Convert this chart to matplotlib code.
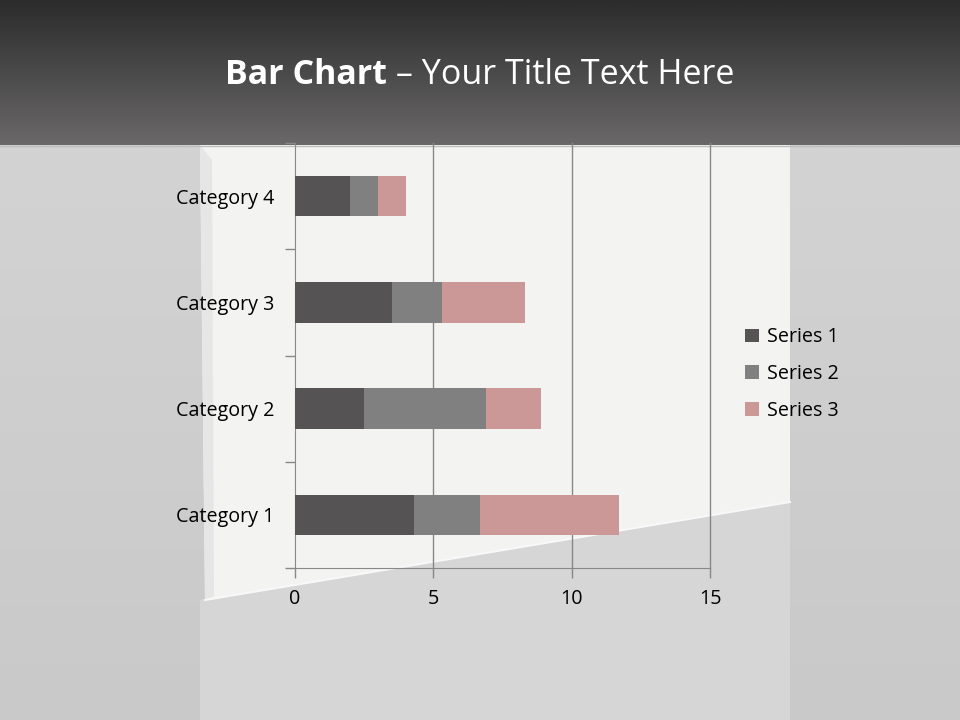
import numpy as np
import matplotlib.pyplot as plt
from matplotlib.patches import Polygon
from matplotlib.colors import LinearSegmentedColormap

plt.rcParams['font.family'] = ['Open Sans', 'DejaVu Sans']

categories = ["Category 1", "Category 2", "Category 3", "Category 4"]
series_names = ["Series 1", "Series 2", "Series 3"]
series_1 = [4.3, 2.5, 3.5, 2.0]
series_2 = [2.4, 4.4, 1.8, 1.0]
series_3 = [5.0, 2.0, 3.0, 1.0]
x_ticks = [0, 5, 10, 15]

colors = ["#555354", "#808080", "#cb9797"]

W, H = 960, 720
fig = plt.figure(figsize=(9.6, 7.2), dpi=100)

# background in pixel coords
bg = fig.add_axes([0, 0, 1, 1])
bg.set_xlim(0, W)
bg.set_ylim(H, 0)
bg.axis("off")

grey = LinearSegmentedColormap.from_list("g", ["#d3d3d3", "#c9c9c9"])
bg.imshow(np.linspace(0, 1, 100).reshape(-1, 1), extent=(0, W, H, 145),
          cmap=grey, aspect="auto", zorder=0)
# lighter floor below the board
bg.add_patch(Polygon([(200, 600), (790, 500), (790, H), (200, H)],
                     closed=True, facecolor="#d6d6d6", edgecolor="none", zorder=1))
# the white board
bg.add_patch(Polygon([(200, 145), (790, 145), (790, 502), (205, 600)],
                     closed=True, facecolor="#f3f3f2", edgecolor="none", zorder=2))
bg.add_patch(Polygon([(200, 145), (212, 160), (214, 596), (205, 600)],
                     closed=True, facecolor="#e6e6e6", edgecolor="none", zorder=2))
bg.plot([205, 790], [600, 502], color="#f8f8f8", lw=1.5, zorder=3)

# title band
dark = LinearSegmentedColormap.from_list("d", ["#2c2c2c", "#6a6869"])
bg.imshow(np.linspace(0, 1, 100).reshape(-1, 1), extent=(0, W, 145, 0),
          cmap=dark, aspect="auto", zorder=4)
bg.plot([0, W], [145.5, 145.5], color="#bdbdbd", lw=1, zorder=5)

t1 = bg.text(0, 75, "Bar Chart", color="white", fontsize=24.5, fontweight="bold",
             va="center", ha="left", zorder=6)
t2 = bg.text(0, 75, " \u2013 Your Title Text Here", color="white", fontsize=24.5,
             va="center", ha="left", zorder=6)
fig.canvas.draw()
r = fig.canvas.get_renderer()
w1 = t1.get_window_extent(r).width
w2 = t2.get_window_extent(r).width
x0 = (W - w1 - w2) / 2
t1.set_x(x0)
t2.set_x(x0 + w1)

# chart
ax = fig.add_axes([295 / W, (H - 568) / H, 415 / W, 425 / H])
ax.patch.set_alpha(0)
y = np.arange(len(categories))
left = np.zeros(len(categories))
for name, vals, c in zip(series_names, [series_1, series_2, series_3], colors):
    ax.barh(y, vals, left=left, height=0.38, color=c, label=name, zorder=3)
    left += np.array(vals)

ax.set_xlim(0, 15)
ax.set_ylim(-0.5, len(categories) - 0.5)
ax.set_xticks(x_ticks)
ax.set_yticks(y)
ax.set_yticklabels(categories)
ax.set_yticks(np.arange(-0.5, len(categories)), minor=True)
ax.tick_params(axis="y", which="major", length=0, pad=15, labelsize=14.2)
ax.tick_params(axis="y", which="minor", length=7, color="#888888", width=1)
ax.tick_params(axis="x", length=7, color="#888888", width=1, pad=8, labelsize=14.2)
for xv in x_ticks[1:]:
    ax.axvline(xv, color="#888888", lw=1, zorder=1, clip_on=False)
for s in ["top", "right"]:
    ax.spines[s].set_visible(False)
for s in ["left", "bottom"]:
    ax.spines[s].set_color("#888888")

fig.legend(loc="center left", bbox_to_anchor=(727 / W, 1 - 374 / H), frameon=False,
           fontsize=14.2, handlelength=0.7, handleheight=0.7, handletextpad=0.45,
           labelspacing=0.84)

fig.savefig("out.png", dpi=100)
